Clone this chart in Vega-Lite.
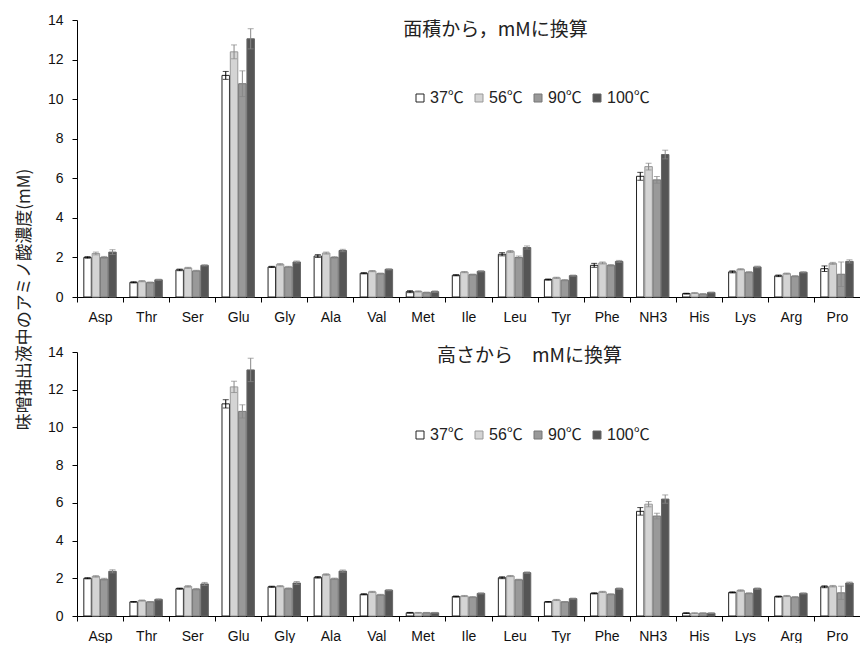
{
"$schema": "https://vega.github.io/schema/vega-lite/v6.json",
"padding": {"left": 15, "top": 13, "right": 0, "bottom": 0},
"bounds": "flush",
"spacing": 55,
"config": {
  "view": {"stroke": null},
  "font": "Liberation Sans, Noto Sans CJK JP",
  "axis": {"domainColor": "#000", "tickColor": "#000", "labelColor": "#111", "labelFontSize": 14, "tickSize": 5, "grid": false, "domainWidth": 1, "tickWidth": 1}
},
"datasets": {"d": [
{"p":"A","a":"Asp","t":"37℃","v":2.0,"e":0.04},{"p":"A","a":"Asp","t":"56℃","v":2.2,"e":0.07},{"p":"A","a":"Asp","t":"90℃","v":2.0,"e":0.05},{"p":"A","a":"Asp","t":"100℃","v":2.27,"e":0.12},
{"p":"A","a":"Thr","t":"37℃","v":0.74,"e":0.03},{"p":"A","a":"Thr","t":"56℃","v":0.8,"e":0.03},{"p":"A","a":"Thr","t":"90℃","v":0.73,"e":0.03},{"p":"A","a":"Thr","t":"100℃","v":0.87,"e":0.03},
{"p":"A","a":"Ser","t":"37℃","v":1.37,"e":0.04},{"p":"A","a":"Ser","t":"56℃","v":1.47,"e":0.03},{"p":"A","a":"Ser","t":"90℃","v":1.32,"e":0.03},{"p":"A","a":"Ser","t":"100℃","v":1.6,"e":0.03},
{"p":"A","a":"Glu","t":"37℃","v":11.2,"e":0.2},{"p":"A","a":"Glu","t":"56℃","v":12.39,"e":0.35},{"p":"A","a":"Glu","t":"90℃","v":10.78,"e":0.65},{"p":"A","a":"Glu","t":"100℃","v":13.05,"e":0.51},
{"p":"A","a":"Gly","t":"37℃","v":1.52,"e":0.03},{"p":"A","a":"Gly","t":"56℃","v":1.65,"e":0.04},{"p":"A","a":"Gly","t":"90℃","v":1.52,"e":0.03},{"p":"A","a":"Gly","t":"100℃","v":1.77,"e":0.05},
{"p":"A","a":"Ala","t":"37℃","v":2.07,"e":0.07},{"p":"A","a":"Ala","t":"56℃","v":2.22,"e":0.05},{"p":"A","a":"Ala","t":"90℃","v":2.0,"e":0.04},{"p":"A","a":"Ala","t":"100℃","v":2.35,"e":0.06},
{"p":"A","a":"Val","t":"37℃","v":1.2,"e":0.03},{"p":"A","a":"Val","t":"56℃","v":1.31,"e":0.03},{"p":"A","a":"Val","t":"90℃","v":1.18,"e":0.03},{"p":"A","a":"Val","t":"100℃","v":1.4,"e":0.03},
{"p":"A","a":"Met","t":"37℃","v":0.27,"e":0.05},{"p":"A","a":"Met","t":"56℃","v":0.28,"e":0.03},{"p":"A","a":"Met","t":"90℃","v":0.22,"e":0.03},{"p":"A","a":"Met","t":"100℃","v":0.27,"e":0.04},
{"p":"A","a":"Ile","t":"37℃","v":1.1,"e":0.03},{"p":"A","a":"Ile","t":"56℃","v":1.26,"e":0.03},{"p":"A","a":"Ile","t":"90℃","v":1.13,"e":0.03},{"p":"A","a":"Ile","t":"100℃","v":1.3,"e":0.03},
{"p":"A","a":"Leu","t":"37℃","v":2.16,"e":0.08},{"p":"A","a":"Leu","t":"56℃","v":2.3,"e":0.05},{"p":"A","a":"Leu","t":"90℃","v":2.0,"e":0.07},{"p":"A","a":"Leu","t":"100℃","v":2.5,"e":0.08},
{"p":"A","a":"Tyr","t":"37℃","v":0.88,"e":0.03},{"p":"A","a":"Tyr","t":"56℃","v":0.97,"e":0.03},{"p":"A","a":"Tyr","t":"90℃","v":0.85,"e":0.03},{"p":"A","a":"Tyr","t":"100℃","v":1.08,"e":0.03},
{"p":"A","a":"Phe","t":"37℃","v":1.6,"e":0.1},{"p":"A","a":"Phe","t":"56℃","v":1.72,"e":0.05},{"p":"A","a":"Phe","t":"90℃","v":1.6,"e":0.04},{"p":"A","a":"Phe","t":"100℃","v":1.8,"e":0.05},
{"p":"A","a":"NH3","t":"37℃","v":6.1,"e":0.2},{"p":"A","a":"NH3","t":"56℃","v":6.59,"e":0.17},{"p":"A","a":"NH3","t":"90℃","v":5.92,"e":0.17},{"p":"A","a":"NH3","t":"100℃","v":7.2,"e":0.22},
{"p":"A","a":"His","t":"37℃","v":0.17,"e":0.02},{"p":"A","a":"His","t":"56℃","v":0.2,"e":0.02},{"p":"A","a":"His","t":"90℃","v":0.15,"e":0.02},{"p":"A","a":"His","t":"100℃","v":0.23,"e":0.02},
{"p":"A","a":"Lys","t":"37℃","v":1.27,"e":0.05},{"p":"A","a":"Lys","t":"56℃","v":1.4,"e":0.03},{"p":"A","a":"Lys","t":"90℃","v":1.25,"e":0.03},{"p":"A","a":"Lys","t":"100℃","v":1.52,"e":0.04},
{"p":"A","a":"Arg","t":"37℃","v":1.07,"e":0.04},{"p":"A","a":"Arg","t":"56℃","v":1.18,"e":0.03},{"p":"A","a":"Arg","t":"90℃","v":1.05,"e":0.03},{"p":"A","a":"Arg","t":"100℃","v":1.25,"e":0.03},
{"p":"A","a":"Pro","t":"37℃","v":1.43,"e":0.14},{"p":"A","a":"Pro","t":"56℃","v":1.7,"e":0.05},{"p":"A","a":"Pro","t":"90℃","v":1.15,"e":0.62},{"p":"A","a":"Pro","t":"100℃","v":1.8,"e":0.08},
{"p":"H","a":"Asp","t":"37℃","v":2.0,"e":0.03},{"p":"H","a":"Asp","t":"56℃","v":2.1,"e":0.04},{"p":"H","a":"Asp","t":"90℃","v":1.95,"e":0.05},{"p":"H","a":"Asp","t":"100℃","v":2.37,"e":0.08},
{"p":"H","a":"Thr","t":"37℃","v":0.75,"e":0.02},{"p":"H","a":"Thr","t":"56℃","v":0.82,"e":0.03},{"p":"H","a":"Thr","t":"90℃","v":0.75,"e":0.02},{"p":"H","a":"Thr","t":"100℃","v":0.88,"e":0.03},
{"p":"H","a":"Ser","t":"37℃","v":1.45,"e":0.03},{"p":"H","a":"Ser","t":"56℃","v":1.57,"e":0.04},{"p":"H","a":"Ser","t":"90℃","v":1.42,"e":0.04},{"p":"H","a":"Ser","t":"100℃","v":1.7,"e":0.08},
{"p":"H","a":"Glu","t":"37℃","v":11.25,"e":0.22},{"p":"H","a":"Glu","t":"56℃","v":12.15,"e":0.3},{"p":"H","a":"Glu","t":"90℃","v":10.85,"e":0.35},{"p":"H","a":"Glu","t":"100℃","v":13.05,"e":0.62},
{"p":"H","a":"Gly","t":"37℃","v":1.55,"e":0.03},{"p":"H","a":"Gly","t":"56℃","v":1.58,"e":0.03},{"p":"H","a":"Gly","t":"90℃","v":1.45,"e":0.04},{"p":"H","a":"Gly","t":"100℃","v":1.75,"e":0.08},
{"p":"H","a":"Ala","t":"37℃","v":2.05,"e":0.04},{"p":"H","a":"Ala","t":"56℃","v":2.2,"e":0.04},{"p":"H","a":"Ala","t":"90℃","v":1.97,"e":0.04},{"p":"H","a":"Ala","t":"100℃","v":2.38,"e":0.06},
{"p":"H","a":"Val","t":"37℃","v":1.15,"e":0.03},{"p":"H","a":"Val","t":"56℃","v":1.28,"e":0.03},{"p":"H","a":"Val","t":"90℃","v":1.12,"e":0.03},{"p":"H","a":"Val","t":"100℃","v":1.37,"e":0.03},
{"p":"H","a":"Met","t":"37℃","v":0.17,"e":0.02},{"p":"H","a":"Met","t":"56℃","v":0.17,"e":0.02},{"p":"H","a":"Met","t":"90℃","v":0.17,"e":0.02},{"p":"H","a":"Met","t":"100℃","v":0.17,"e":0.02},
{"p":"H","a":"Ile","t":"37℃","v":1.03,"e":0.03},{"p":"H","a":"Ile","t":"56℃","v":1.06,"e":0.03},{"p":"H","a":"Ile","t":"90℃","v":1.0,"e":0.03},{"p":"H","a":"Ile","t":"100℃","v":1.2,"e":0.03},
{"p":"H","a":"Leu","t":"37℃","v":2.03,"e":0.05},{"p":"H","a":"Leu","t":"56℃","v":2.12,"e":0.03},{"p":"H","a":"Leu","t":"90℃","v":1.92,"e":0.03},{"p":"H","a":"Leu","t":"100℃","v":2.3,"e":0.04},
{"p":"H","a":"Tyr","t":"37℃","v":0.75,"e":0.02},{"p":"H","a":"Tyr","t":"56℃","v":0.85,"e":0.03},{"p":"H","a":"Tyr","t":"90℃","v":0.75,"e":0.02},{"p":"H","a":"Tyr","t":"100℃","v":0.92,"e":0.03},
{"p":"H","a":"Phe","t":"37℃","v":1.2,"e":0.03},{"p":"H","a":"Phe","t":"56℃","v":1.28,"e":0.03},{"p":"H","a":"Phe","t":"90℃","v":1.15,"e":0.03},{"p":"H","a":"Phe","t":"100℃","v":1.45,"e":0.04},
{"p":"H","a":"NH3","t":"37℃","v":5.55,"e":0.2},{"p":"H","a":"NH3","t":"56℃","v":5.93,"e":0.14},{"p":"H","a":"NH3","t":"90℃","v":5.3,"e":0.15},{"p":"H","a":"NH3","t":"100℃","v":6.2,"e":0.22},
{"p":"H","a":"His","t":"37℃","v":0.15,"e":0.02},{"p":"H","a":"His","t":"56℃","v":0.15,"e":0.02},{"p":"H","a":"His","t":"90℃","v":0.15,"e":0.02},{"p":"H","a":"His","t":"100℃","v":0.15,"e":0.02},
{"p":"H","a":"Lys","t":"37℃","v":1.25,"e":0.03},{"p":"H","a":"Lys","t":"56℃","v":1.35,"e":0.04},{"p":"H","a":"Lys","t":"90℃","v":1.2,"e":0.03},{"p":"H","a":"Lys","t":"100℃","v":1.45,"e":0.04},
{"p":"H","a":"Arg","t":"37℃","v":1.03,"e":0.03},{"p":"H","a":"Arg","t":"56℃","v":1.06,"e":0.03},{"p":"H","a":"Arg","t":"90℃","v":1.0,"e":0.03},{"p":"H","a":"Arg","t":"100℃","v":1.2,"e":0.03},
{"p":"H","a":"Pro","t":"37℃","v":1.55,"e":0.05},{"p":"H","a":"Pro","t":"56℃","v":1.58,"e":0.04},{"p":"H","a":"Pro","t":"90℃","v":1.23,"e":0.35},{"p":"H","a":"Pro","t":"100℃","v":1.75,"e":0.05}
]},
"resolve": {"scale": {"fill": "independent", "stroke": "independent", "color": "independent"}, "legend": {"fill": "independent"}},
"vconcat": [
{
  "width": 783, "height": 277,
  "data": {"name": "d"},
  "transform": [{"filter": "datum.p == 'A'"}],
  "title": {"text": "面積から，mMに換算", "frame": "group", "anchor": "middle", "orient": "top", "offset": -9, "baseline": "middle", "dx": 27, "dy": 27, "fontSize": 19, "fontWeight": "normal", "font": "Noto Sans CJK JP", "color": "#222"},
  "encoding": {
    "x": {"field": "a", "type": "nominal", "sort": ["Asp","Thr","Ser","Glu","Gly","Ala","Val","Met","Ile","Leu","Tyr","Phe","NH3","His","Lys","Arg","Pro"], "scale": {"paddingInner": 0, "paddingOuter": 0}, "axis": {"title": null, "labelAngle": 0, "tickBand": "extent", "labelPadding": 8}},
    "xOffset": {"field": "t", "type": "nominal", "scale": {"domain": ["37℃","56℃","90℃","100℃"], "paddingInner": 0.1, "paddingOuter": 0.82}},
    "y": {"field": "v", "type": "quantitative", "scale": {"domain": [0, 14], "nice": false}, "axis": {"values": [0,2,4,6,8,10,12,14], "labelPadding": 9, "title": "味噌抽出液中のアミノ酸濃度(mM)", "titleX": -44, "titleY": 279, "titleAngle": -90, "titleAlign": "center", "titleBaseline": "bottom", "titleFontSize": 17, "titleFontWeight": "normal", "titleFont": "Noto Sans CJK JP", "titleColor": "#222"}}
  },
  "layer": [
    {"mark": {"type": "bar", "strokeWidth": 1},
     "encoding": {
       "fill": {"field": "t", "type": "nominal", "scale": {"domain": ["37℃","56℃","90℃","100℃"], "range": ["#ffffff","#d4d4d4","#999999","#555555"]},
         "legend": {"orient": "none", "legendX": 335, "legendY": 70, "direction": "horizontal", "title": null, "symbolType": "square", "symbolSize": 64, "symbolStrokeColor": "#333", "symbolStrokeWidth": 1, "labelFontSize": 16, "labelOffset": 2, "columnPadding": 7, "labelColor": "#222"}},
       "stroke": {"field": "t", "type": "nominal", "scale": {"domain": ["37℃","56℃","90℃","100℃"], "range": ["#222222","#999999","#777777","#666666"]}, "legend": null}
     }},
    {"mark": {"type": "errorbar", "ticks": {"size": 6}, "thickness": 1},
     "encoding": {
       "yError": {"field": "e"},
       "color": {"field": "t", "type": "nominal", "scale": {"domain": ["37℃","56℃","90℃","100℃"], "range": ["#000000","#888888","#888888","#888888"]}, "legend": null}
     }}
  ]
},
{
  "width": 783, "height": 264,
  "data": {"name": "d"},
  "transform": [{"filter": "datum.p == 'H'"}],
  "title": {"text": "高さから　mMに換算", "frame": "group", "anchor": "middle", "orient": "top", "offset": -5, "baseline": "middle", "dx": 61, "dy": 25, "fontSize": 19, "fontWeight": "normal", "font": "Noto Sans CJK JP", "color": "#222"},
  "encoding": {
    "x": {"field": "a", "type": "nominal", "sort": ["Asp","Thr","Ser","Glu","Gly","Ala","Val","Met","Ile","Leu","Tyr","Phe","NH3","His","Lys","Arg","Pro"], "scale": {"paddingInner": 0, "paddingOuter": 0}, "axis": {"title": null, "labelAngle": 0, "tickBand": "extent", "labelPadding": 8}},
    "xOffset": {"field": "t", "type": "nominal", "scale": {"domain": ["37℃","56℃","90℃","100℃"], "paddingInner": 0.1, "paddingOuter": 0.82}},
    "y": {"field": "v", "type": "quantitative", "scale": {"domain": [0, 14], "nice": false}, "axis": {"values": [0,2,4,6,8,10,12,14], "labelPadding": 9, "title": null}}
  },
  "layer": [
    {"mark": {"type": "bar", "strokeWidth": 1},
     "encoding": {
       "fill": {"field": "t", "type": "nominal", "scale": {"domain": ["37℃","56℃","90℃","100℃"], "range": ["#ffffff","#d4d4d4","#999999","#555555"]},
         "legend": {"orient": "none", "legendX": 335, "legendY": 75, "direction": "horizontal", "title": null, "symbolType": "square", "symbolSize": 64, "symbolStrokeColor": "#333", "symbolStrokeWidth": 1, "labelFontSize": 16, "labelOffset": 2, "columnPadding": 7, "labelColor": "#222"}},
       "stroke": {"field": "t", "type": "nominal", "scale": {"domain": ["37℃","56℃","90℃","100℃"], "range": ["#222222","#999999","#777777","#666666"]}, "legend": null}
     }},
    {"mark": {"type": "errorbar", "ticks": {"size": 6}, "thickness": 1},
     "encoding": {
       "yError": {"field": "e"},
       "color": {"field": "t", "type": "nominal", "scale": {"domain": ["37℃","56℃","90℃","100℃"], "range": ["#000000","#888888","#888888","#888888"]}, "legend": null}
     }}
  ]
}
]
}
